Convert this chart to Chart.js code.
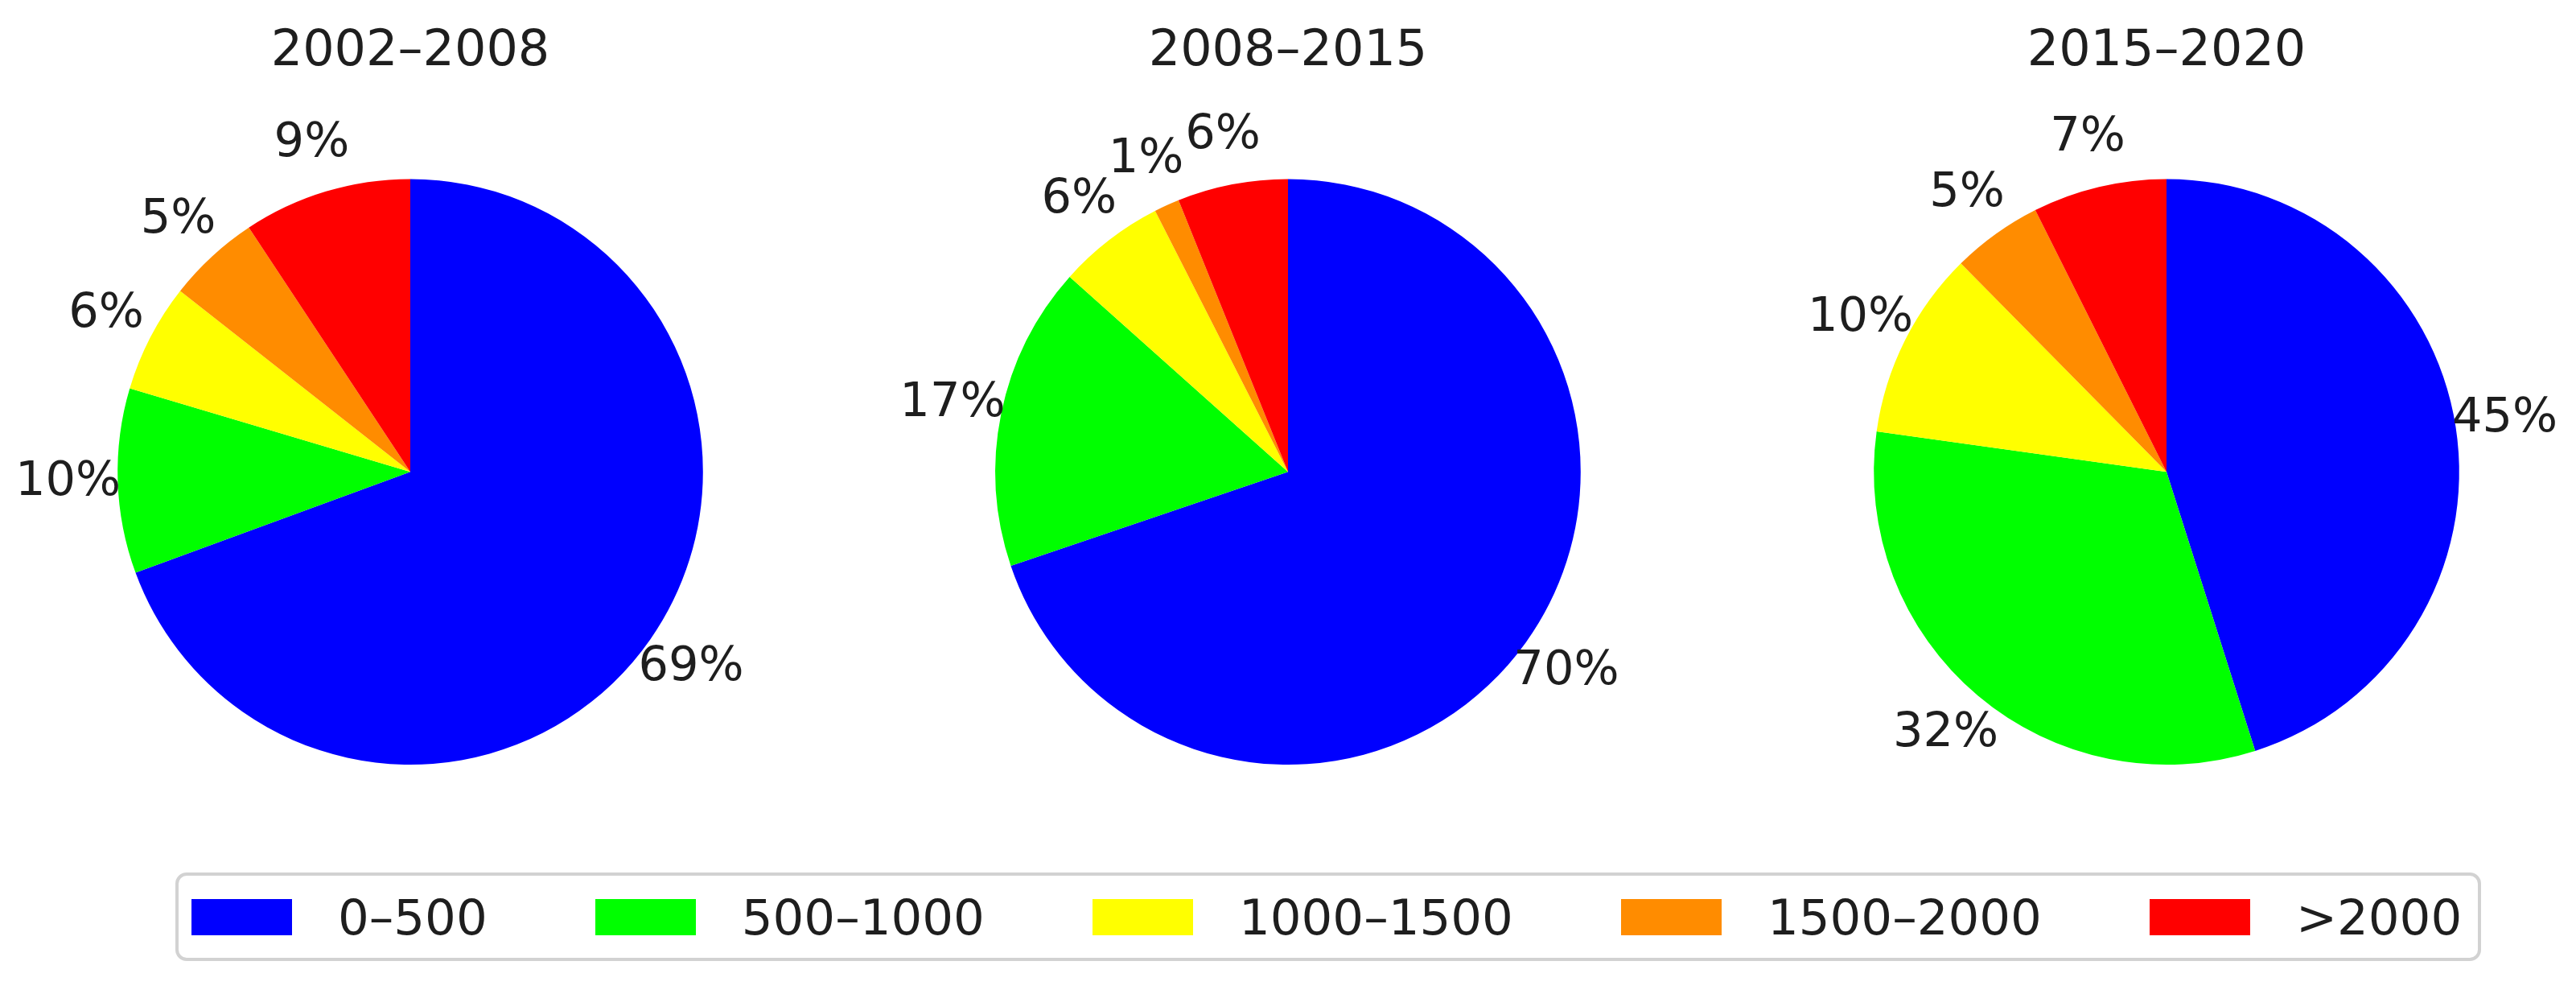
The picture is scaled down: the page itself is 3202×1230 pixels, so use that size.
<!DOCTYPE html>
<html>
<head>
<meta charset="utf-8">
<script src="https://cdn.jsdelivr.net/npm/chart.js@4/dist/chart.umd.min.js"></script>
<style>
  html, body { margin: 0; padding: 0; background: #fff; overflow: hidden; }
  body { width: 3202px; height: 1230px; position: relative; font-family: "DejaVu Sans", sans-serif; }
  canvas.pie { position: absolute; top: 0; }
  #legend {
    position: absolute; left: 218px; top: 1084px; width: 2866px; height: 110px;
    box-sizing: border-box; border: 4px solid #d2d2d2; border-radius: 14px;
    display: flex; align-items: center; padding-left: 16px;
    font-size: 61px; color: #1e1e1e;
  }
  #legend .item { display: flex; align-items: center; margin-right: 134px; }
  #legend .item:last-child { margin-right: 0; }
  #legend .swatch { width: 125px; height: 45px; margin-right: 57px; }
</style>
</head>
<body>
<canvas id="pie1" class="pie" width="1020" height="1060" style="left:0px"></canvas>
<canvas id="pie2" class="pie" width="1020" height="1060" style="left:1091px"></canvas>
<canvas id="pie3" class="pie" width="1020" height="1060" style="left:2183px"></canvas>
<div id="legend"></div>

<script>
// categories (elevation bands) and colours
const categories = ['0\u2013500', '500\u20131000', '1000\u20131500', '1500\u20132000', '>2000'];
const colors = ['#0000ff', '#00ff00', '#ffff00', '#ff8c00', '#ff0000'];

// period titles
const periods = ['2002\u20132008', '2008\u20132015', '2015\u20132020'];

// share of each band per period (%)
const share2002 = [69.4, 10.2, 6.0, 5.1, 9.3];
const share2008 = [69.8, 16.8, 5.9, 1.4, 6.1];
const share2015 = [45.1, 32.1, 10.4, 5.0, 7.4];

const allShares = [share2002, share2008, share2015];

// draws the percentage text just outside each slice
const pctLabels = {
  id: 'pctLabels',
  afterDatasetsDraw(chart) {
    const ctx = chart.ctx;
    const meta = chart.getDatasetMeta(0);
    const values = chart.data.datasets[0].data;
    const total = values.reduce((a, b) => a + b, 0);
    ctx.save();
    ctx.font = '59px "DejaVu Sans"';
    ctx.fillStyle = '#1e1e1e';
    ctx.textAlign = 'center';
    ctx.textBaseline = 'middle';
    meta.data.forEach((arc, i) => {
      const mid = (arc.startAngle + arc.endAngle) / 2;
      const d = arc.outerRadius * 1.17;
      const pct = Math.round(values[i] / total * 100);
      ctx.fillText(pct + '%', arc.x + Math.cos(mid) * d, arc.y + Math.sin(mid) * d);
    });
    ctx.restore();
  }
};

function makePie(id, title, values) {
  return new Chart(document.getElementById(id), {
    type: 'pie',
    data: {
      labels: categories,
      datasets: [{
        data: values,
        backgroundColor: colors,
        borderWidth: 0,
        hoverOffset: 0,
        offset: 0
      }]
    },
    options: {
      responsive: false,
      animation: false,
      events: [],
      layout: { padding: { top: 0, bottom: 110, left: 0, right: 0 } },
      plugins: {
        legend: { display: false },
        tooltip: { enabled: false },
        title: {
          display: true,
          text: title,
          color: '#1e1e1e',
          font: { family: 'DejaVu Sans', size: 62, weight: 'normal', lineHeight: 1.2 },
          padding: { top: 28, bottom: 120 }
        }
      }
    },
    plugins: [pctLabels]
  });
}

makePie('pie1', periods[0], allShares[0]);
makePie('pie2', periods[1], allShares[1]);
makePie('pie3', periods[2], allShares[2]);

// shared legend below the three pies
const legend = document.getElementById('legend');
categories.forEach((name, i) => {
  const item = document.createElement('div');
  item.className = 'item';
  const sw = document.createElement('span');
  sw.className = 'swatch';
  sw.style.background = colors[i];
  const txt = document.createElement('span');
  txt.textContent = name;
  item.appendChild(sw);
  item.appendChild(txt);
  legend.appendChild(item);
});
</script>
</body>
</html>
